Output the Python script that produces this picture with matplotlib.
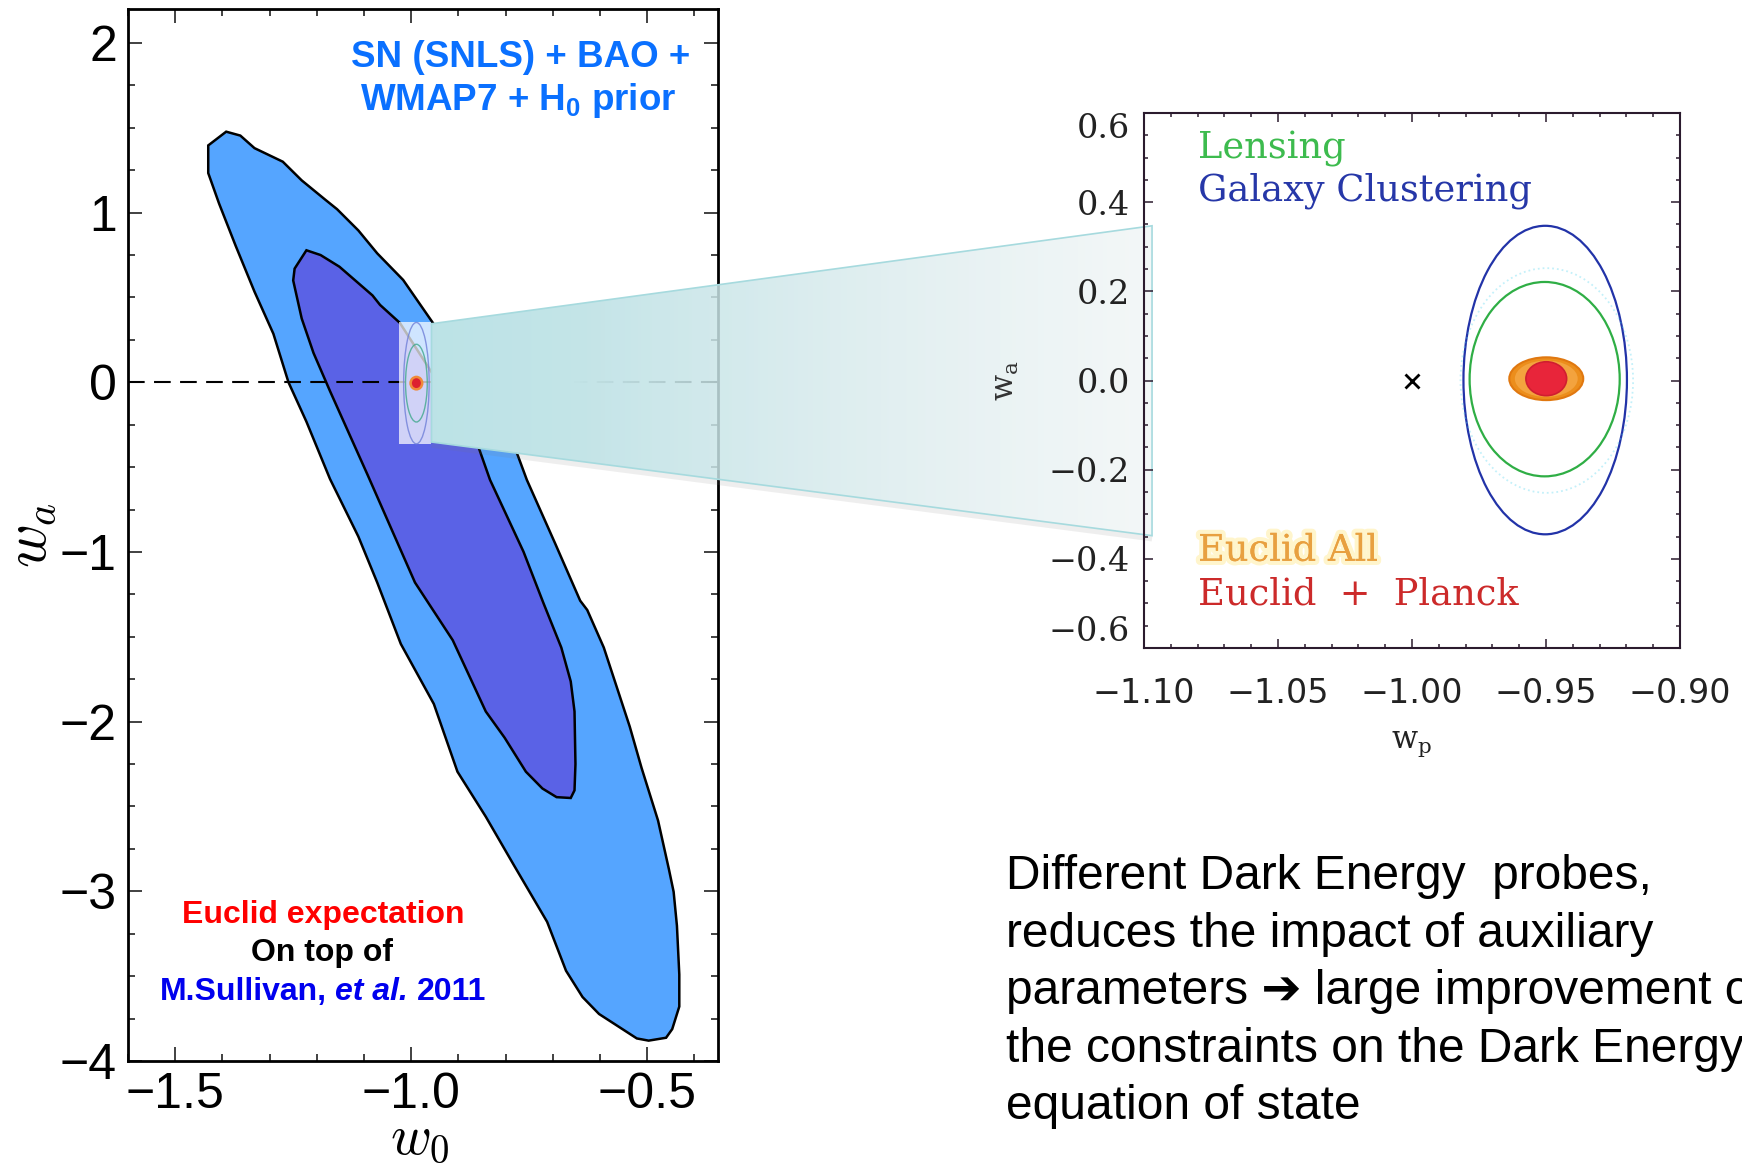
import numpy as np
import matplotlib.pyplot as plt
from matplotlib.patches import Polygon, Ellipse, Rectangle
from matplotlib.ticker import MultipleLocator
import matplotlib.patheffects as pe

W, H = 1742, 1167

# SN (SNLS) + BAO + WMAP7 + H0 prior contours (w0, wa)
outer_w0 = [-1.392, -1.430, -1.430, -1.407, -1.372, -1.332, -1.292, -1.260, -1.222, -1.172,
            -1.112, -1.072, -1.022, -0.952, -0.902, -0.842, -0.782, -0.712, -0.672, -0.637,
            -0.602, -0.522, -0.497, -0.460, -0.447, -0.432, -0.432, -0.437, -0.444, -0.454,
            -0.477, -0.512, -0.537, -0.592, -0.627, -0.642, -0.695, -0.755, -0.784, -0.954,
            -1.017, -1.072, -1.112, -1.157, -1.182, -1.232, -1.272, -1.332, -1.362]
outer_wa = [1.477, 1.396, 1.233, 1.053, 0.805, 0.534, 0.286, 0.000, -0.232, -0.570,
            -0.909, -1.180, -1.542, -1.896, -2.295, -2.560, -2.848, -3.180, -3.468, -3.623,
            -3.723, -3.867, -3.880, -3.863, -3.812, -3.679, -3.490, -3.203, -3.003, -2.870,
            -2.583, -2.272, -2.029, -1.563, -1.342, -1.287, -0.950, -0.575, -0.357, 0.350,
            0.603, 0.760, 0.895, 1.020, 1.076, 1.190, 1.300, 1.380, 1.454]

inner_w0 = [-1.222, -1.247, -1.250, -1.232, -1.207, -1.172, -1.132, -1.092, -1.042, -0.992,
            -0.912, -0.842, -0.802, -0.757, -0.722, -0.692, -0.662, -0.654, -0.652, -0.654,
            -0.662, -0.682, -0.720, -0.762, -0.833, -0.865, -0.960, -1.024, -1.066, -1.082,
            -1.152, -1.192]
inner_wa = [0.778, 0.670, 0.600, 0.376, 0.173, -0.052, -0.300, -0.548, -0.864, -1.180,
            -1.520, -1.940, -2.095, -2.295, -2.394, -2.445, -2.450, -2.405, -2.250, -1.940,
            -1.763, -1.563, -1.300, -0.999, -0.575, -0.322, 0.073, 0.350, 0.456, 0.512,
            0.681, 0.750]

# small copy of the Euclid panel drawn on the big plot
mini_w0 = [-1.026, -0.957]
mini_wa = [-0.365, 0.354]
mini_centre = (-0.989, -0.005)
mini_widths = [0.054, 0.046]
mini_heights = [0.715, 0.458]
mini_colors = ['#7080d8', '#3fa88c']

# Euclid forecast panel: ellipses (centre, half widths)
ell_names = ['Galaxy Clustering', 'Lensing', 'other']
ell_wp = [-0.9503, -0.9505, -0.9497]
ell_wa = [0.001, 0.003, 0.0]
ell_half_wp = [0.0305, 0.0280, 0.0322]
ell_half_wa = [0.346, 0.218, 0.252]
ell_colors = ['#2233a8', '#2fae45', '#55d5f0']

fill_names = ['Euclid All', 'Euclid + Planck']
fill_centre = (-0.9499, 0.004)
fill_half_wp = [0.0138, 0.0076]
fill_half_wa = [0.048, 0.038]
fill_colors = ['#ec8e1c', '#e8253a']
fiducial = (-1.0, 0.0)

legend_text = ['Lensing', 'Galaxy Clustering', 'Euclid All', 'Euclid  +  Planck']
legend_colors = ['#3dbb4e', '#2637a8', '#e8a040', '#cc2a2a']
legend_y = [0.915, 0.836, 0.163, 0.082]

note_lines = ['Different Dark Energy  probes,',
              'reduces the impact of auxiliary',
              'parameters \u2794 large improvement on',
              'the constraints on the Dark Energy',
              'equation of state']

plt.rcParams['font.family'] = ['Liberation Sans', 'DejaVu Sans']
plt.rcParams['mathtext.fontset'] = 'custom'
plt.rcParams['mathtext.rm'] = 'Liberation Sans'
plt.rcParams['mathtext.bf'] = 'Liberation Sans:bold'

fig = plt.figure(figsize=(W / 100, H / 100), dpi=100)
fig.patch.set_facecolor('white')

# ---- left: big w0-wa plot
ax = fig.add_axes([128 / W, 1 - 1061 / H, 590 / W, 1052 / H])
ax.fill(outer_w0, outer_wa, facecolor='#55a5ff', edgecolor='black', lw=1.8, zorder=1)
ax.fill(inner_w0, inner_wa, facecolor='#5a62e6', edgecolor='black', lw=1.8, zorder=1.1)
ax.axhline(0, color='black', lw=1.5, dashes=(8, 4.5), zorder=2)

ax.add_patch(Rectangle((mini_w0[0], mini_wa[0]), mini_w0[1] - mini_w0[0], mini_wa[1] - mini_wa[0],
                       facecolor='white', alpha=0.72, edgecolor='none', zorder=3))
for w, h, c in zip(mini_widths, mini_heights, mini_colors):
    ax.add_patch(Ellipse(mini_centre, w, h, fill=False, edgecolor=c, lw=1.0, alpha=0.8, zorder=4))
ax.add_patch(Ellipse(mini_centre, 0.030, 0.088, facecolor='#f08a3a', edgecolor='none', zorder=4))
ax.add_patch(Ellipse(mini_centre, 0.019, 0.058, facecolor='#dd2030', edgecolor='none', zorder=4))

ax.set_xlim(-1.6, -0.35)
ax.set_ylim(-4, 2.2)
ax.xaxis.set_major_locator(MultipleLocator(0.5))
ax.xaxis.set_minor_locator(MultipleLocator(0.1))
ax.yaxis.set_major_locator(MultipleLocator(1))
ax.yaxis.set_minor_locator(MultipleLocator(0.25))
ax.tick_params(which='both', direction='in', top=True, right=True, width=1.3, color='#333333')
ax.tick_params(which='major', length=10, labelsize=36, pad=8,
               labelfontfamily=['Liberation Sans Narrow', 'Liberation Sans'])
ax.tick_params(which='minor', length=5)
for s in ax.spines.values():
    s.set_linewidth(2)

ax.text(-0.166, 0.50, r'$w_a$', transform=ax.transAxes, rotation=90, ha='center', va='center',
        fontsize=43, math_fontfamily='cm')
ax.text(0.495, -0.050, r'$w_0$', transform=ax.transAxes, ha='center', va='top',
        fontsize=40, math_fontfamily='cm')

blue_txt = '#0a70ff'
ax.text(0.666, 0.9451, 'SN (SNLS) + BAO +', transform=ax.transAxes, ha='center', va='baseline',
        fontsize=26.5, fontweight='bold', color=blue_txt)
ax.text(0.661, 0.9040, r'WMAP7 + H$_\mathbf{0}$ prior', transform=ax.transAxes, ha='center',
        va='baseline', fontsize=26.5, fontweight='bold', color=blue_txt)

ax.text(0.331, 0.1312, 'Euclid expectation', transform=ax.transAxes, ha='center', va='baseline',
        fontsize=23, fontweight='bold', color='#ff0000')
ax.text(0.329, 0.0951, 'On top of', transform=ax.transAxes, ha='center', va='baseline',
        fontsize=23, fontweight='bold', color='black')
ref_kw = dict(fontsize=23, fontweight='bold', color='#0000ee')
t1 = ax.text(0.0, 0.058, 'M.Sullivan,', transform=ax.transAxes, va='baseline', ha='left', **ref_kw)
t2 = ax.annotate('et al.', xy=(1, 0), xycoords=t1, xytext=(6, 0), textcoords='offset points',
                 va='bottom', ha='left', style='italic', **ref_kw)
t3 = ax.annotate('2011', xy=(1, 0), xycoords=t2, xytext=(6, 0), textcoords='offset points',
                 va='bottom', ha='left', **ref_kw)

# ---- right: Euclid forecast panel (above the band, transparent background)
axi = fig.add_axes([1144 / W, 1 - 648 / H, 536 / W, 535 / H], zorder=30)
axi.patch.set_alpha(0)
for cx, cy, hx, hy, c, name in zip(ell_wp, ell_wa, ell_half_wp, ell_half_wa, ell_colors, ell_names):
    if name == 'other':
        axi.add_patch(Ellipse((cx, cy), 2 * hx, 2 * hy, fill=False, edgecolor=c, lw=1.3,
                              ls=':', alpha=0.35))
    else:
        axi.add_patch(Ellipse((cx, cy), 2 * hx, 2 * hy, fill=False, edgecolor=c, lw=1.6))
axi.add_patch(Ellipse(fill_centre, 2 * fill_half_wp[0], 2 * fill_half_wa[0],
                      facecolor=fill_colors[0], edgecolor='#e07810', lw=1.5))
axi.add_patch(Ellipse(fill_centre, 1.7 * fill_half_wp[0], 1.7 * fill_half_wa[0],
                      facecolor='#f3a33e', edgecolor='none'))
axi.add_patch(Ellipse(fill_centre, 2 * fill_half_wp[1], 2 * fill_half_wa[1],
                      facecolor=fill_colors[1], edgecolor='#d01e30', lw=1.2))
axi.plot(*fiducial, marker='x', color='black', ms=10, mew=2)

for txt, c, y in zip(legend_text, legend_colors, legend_y):
    t = axi.text(0.1007, y, txt, transform=axi.transAxes, color=c, fontsize=26.5,
                 family='DejaVu Serif', va='baseline', ha='left')
    if txt == 'Euclid All':
        t.set_path_effects([pe.withStroke(linewidth=6, foreground='#fff5cc'), pe.Normal()])

axi.set_xlim(-1.10, -0.90)
axi.set_ylim(-0.6, 0.6)
axi.set_xticks([-1.10, -1.05, -1.00, -0.95, -0.90])
axi.set_yticks([-0.6, -0.4, -0.2, 0.0, 0.2, 0.4, 0.6])
axi.xaxis.set_minor_locator(MultipleLocator(0.01))
axi.yaxis.set_minor_locator(MultipleLocator(0.05))
axi.ticklabel_format(useOffset=False)
axi.tick_params(which='both', direction='in', top=True, right=True, width=1.1, color='#2b1b2e')
axi.tick_params(which='major', length=6.5, labelsize=24, labelcolor='#222222')
axi.tick_params(which='minor', length=3.2)
axi.tick_params(axis='x', pad=21, labelfontfamily='DejaVu Sans')
axi.tick_params(axis='y', pad=10, labelfontfamily='DejaVu Serif')
for s in axi.spines.values():
    s.set_linewidth(1.5)
    s.set_color('#2b1b2e')
ylabs = axi.get_yticklabels()
ylabs[0].set_va('bottom')
ylabs[-1].set_va('top')

fig.text(1005.5 / W, 1 - 381 / H, r'$\mathrm{w_a}$', rotation=90, ha='center', va='center',
         fontsize=22, math_fontfamily='dejavuserif', color='#333333', zorder=40)
fig.text(1412 / W, 1 - 744 / H, r'$\mathrm{w_p}$', ha='center', va='center',
         fontsize=22, math_fontfamily='dejavuserif', color='#222222')

# ---- note text bottom right
for i, line in enumerate(note_lines):
    fig.text(1006 / W, 1 - (889 + 57.6 * i) / H, line, fontsize=34.5, va='baseline', ha='left',
             family=['Liberation Sans', 'DejaVu Sans'])

# centre the Sullivan reference line
fig.canvas.draw()
r = fig.canvas.get_renderer()
tot = t3.get_window_extent(r).x1 - t1.get_window_extent(r).x0
x0 = 323 - tot / 2
axbb = ax.get_window_extent(r)
t1.set_x((x0 - axbb.x0) / axbb.width)

# ---- zoom band linking the two panels
ov = fig.add_axes([0, 0, 1, 1], zorder=20)
ov.set_xlim(0, W)
ov.set_ylim(0, H)
ov.axis('off')
lt = ax.transData.transform((mini_w0[1], 0.345))
lb = ax.transData.transform((mini_w0[1], -0.352))
rt = axi.transData.transform((-1.097, 0.347))
rb = axi.transData.transform((-1.097, -0.348))
corners = np.array([lt, rt, rb, lb])

ov.plot([lb[0], rb[0]], [lb[1] - 3, rb[1] - 3], color='#777777', alpha=0.12, lw=4,
        solid_capstyle='butt', zorder=1)
nx = 300
t = np.linspace(0, 1, nx)
c0 = np.array([0.737, 0.890, 0.905])
c1 = np.array([0.880, 0.920, 0.925])
img = np.zeros((1, nx, 4))
img[0, :, :3] = c0 + (c1 - c0) * t[:, None]
img[0, :, 3] = np.where(t < 0.2, 1.0, 1.0 - 0.62 * (t - 0.2) / 0.8)
band = Polygon(corners, closed=True, facecolor='none', edgecolor='#a6dade', lw=1.2, zorder=3)
ov.add_patch(band)
im = ov.imshow(img, extent=(lt[0], rt[0], rb[1], rt[1]), aspect='auto',
               interpolation='bilinear', zorder=2)
im.set_clip_path(band)
ov.set_xlim(0, W)
ov.set_ylim(0, H)

fig.savefig('out.png', dpi=100, facecolor='white')
